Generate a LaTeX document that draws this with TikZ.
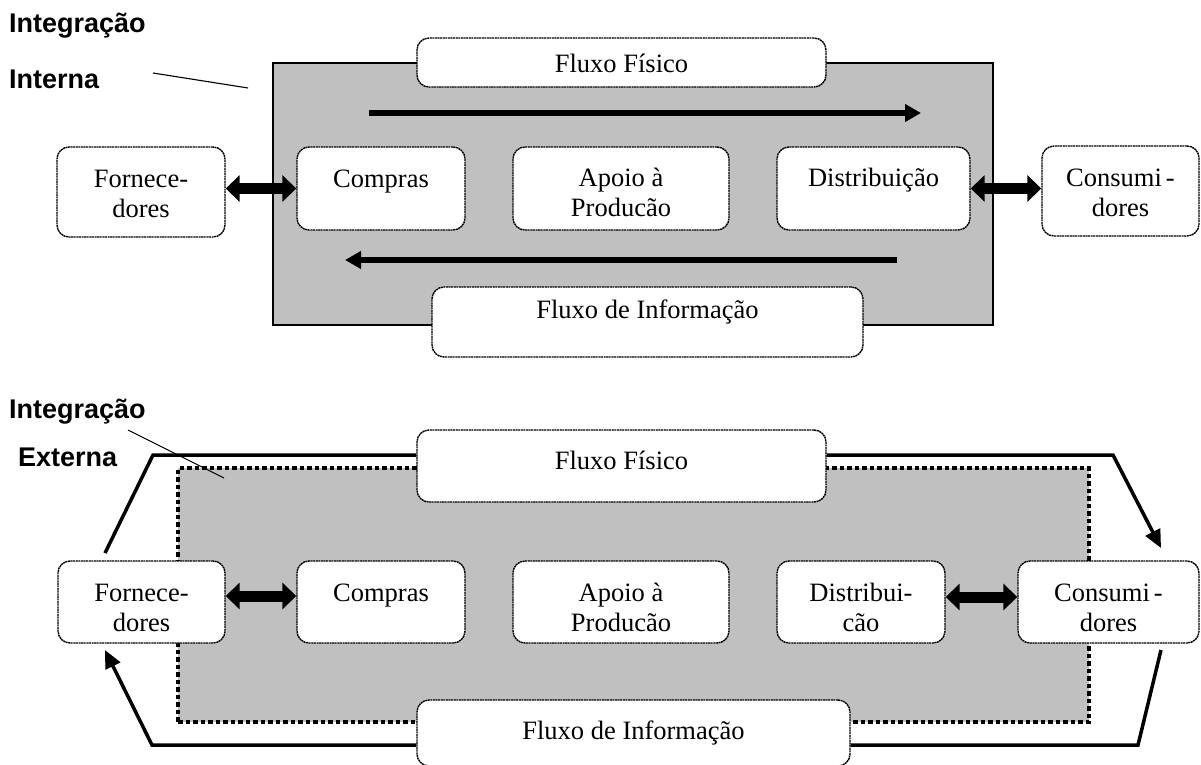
\documentclass[tikz,border=0pt]{standalone}
\usepackage{fontspec}
\setmainfont{Liberation Serif}
\newfontfamily\tagfont{Liberation Sans}
\usetikzlibrary{arrows.meta,calc}
\definecolor{panel}{HTML}{C0C0C0}
% two stacked lines; the baseline of the whole block is that of the first line
\newcommand{\twolines}[2]{\begin{tabular}[t]{@{}c@{}}#1\\#2\end{tabular}}

\begin{document}
\begin{tikzpicture}[x=1pt,y=-1pt,
  box/.style={draw=black, fill=white, rounded corners=12pt, line width=1.4pt,
              dash pattern=on 2pt off 0.6pt, inner sep=0pt},
  core/.style={draw=black, fill=panel, line width=1.5pt, inner sep=0pt},
  coredot/.style={draw=black, fill=panel, line width=3.5pt, dash pattern=on 4.5pt off 3pt, inner sep=0pt},
  txt/.style={inner sep=0pt, anchor=base, font=\fontsize{26.5}{30}\selectfont},
  tag/.style={inner sep=0pt, anchor=base west, font=\tagfont\bfseries\fontsize{27}{30}\selectfont},
  pointer/.style={line width=1.1pt},
  flowarrow/.style={line width=6pt, -{Triangle[length=16pt,width=17pt]}},
  dbl/.style={line width=11pt, {Triangle[length=14pt,width=26pt]}-{Triangle[length=14pt,width=26pt]}},
  loopline/.style={line width=3.5pt},
  looparrow/.style={line width=3.5pt, -{Triangle[length=18pt,width=16pt]}}
]
\useasboundingbox (0,0) rectangle (1201,765);

% ---------------- internal integration ----------------
\node[tag] (intA) at (9,33) {Integração};
\node[tag] (intB) at (9,89) {Interna};
\coordinate (pA0) at (153,73);
\coordinate (pA1) at (248,88);
\draw[pointer] (pA0) -- (pA1);

\node[core, minimum width=720pt, minimum height=262pt] (core1) at (633,194) {};

\node[box, minimum width=409pt, minimum height=49pt] (fis1) at (621.5,62.5) {};
\node[txt] (fis1t) at ($(fis1.north)+(0,35)$) {Fluxo Físico};

\coordinate (ra0) at (369,113);
\coordinate (ra1) at (921,113);
\draw[flowarrow] (ra0) -- (ra1);

\node[box, minimum width=168pt, minimum height=90pt] (forn1) at (141,192) {};
\node[box, minimum width=168pt, minimum height=83pt] (comp1) at (381,188.5) {};
\node[box, minimum width=216pt, minimum height=83pt] (apoio1) at (621,188.5) {};
\node[box, minimum width=193pt, minimum height=83pt] (dist1) at (873.5,188.5) {};
\node[box, minimum width=157pt, minimum height=90pt] (cons1) at (1120.5,191) {};

\node[txt] (forn1t) at ($(forn1.north)+(0,41)$) {\twolines{Fornece-}{dores}};
\node[txt] (comp1t) at ($(comp1.north)+(0,41)$) {Compras};
\node[txt] (apoio1t) at ($(apoio1.north)+(0,40)$) {\twolines{Apoio à}{Producão}};
\node[txt] (dist1t) at ($(dist1.north)+(0,40)$) {Distribuição};
\node[txt] (cons1t) at ($(cons1.north)+(0,41)$) {\twolines{Consumi\hspace{4pt}-}{dores}};

\draw[dbl] (forn1.east |- comp1.west) -- (comp1.west);
\draw[dbl] (dist1.east) -- (dist1.east -| cons1.west);

\coordinate (la0) at (897,260);
\coordinate (la1) at (345,260);
\draw[flowarrow] (la0) -- (la1);

\node[box, minimum width=431pt, minimum height=70pt] (info1) at (647.5,322) {};
\node[txt] (info1t) at ($(info1.north)+(0,32)$) {Fluxo de Informação};

% ---------------- external integration ----------------
\node[tag] (extA) at (9,418) {Integração};
\node[tag] (extB) at (18,466) {Externa};

\node[coredot, minimum width=911pt, minimum height=254pt] (core2) at (633.5,595) {};

\coordinate (pB0) at (128,430);
\coordinate (pB1) at (224,478);
\draw[pointer] (pB0) -- (pB1);

\node[box, minimum width=409pt, minimum height=72pt] (fis2) at (621.5,466) {};
\node[box, minimum width=433pt, minimum height=66pt] (info2) at (633.5,733) {};

% outer loop: goods towards the consumers, information back to the suppliers
\coordinate (ul0) at (105,553);
\coordinate (ul1) at (153,455);
\coordinate (ur1) at (1113,455);
\coordinate (ur2) at (1161,548);
\coordinate (lr0) at (1161,650);
\coordinate (lr1) at (1138,745);
\coordinate (ll1) at (152,745);
\coordinate (ll2) at (105,650);
\draw[loopline] (ul0) -- (ul1) -- (ul1 -| fis2.west);
\draw[looparrow] (ur1 -| fis2.east) -- (ur1) -- (ur2);
\draw[loopline] (lr0) -- (lr1) -- (lr1 -| info2.east);
\draw[looparrow] (ll1 -| info2.west) -- (ll1) -- (ll2);

\node[txt] (fis2t) at ($(fis2.north)+(0,40)$) {Fluxo Físico};
\node[txt] (info2t) at ($(info2.north)+(0,40)$) {Fluxo de Informação};

\node[box, minimum width=167pt, minimum height=82pt] (forn2) at (141.5,602) {};
\node[box, minimum width=168pt, minimum height=82pt] (comp2) at (381,602) {};
\node[box, minimum width=216pt, minimum height=82pt] (apoio2) at (621,602) {};
\node[box, minimum width=168pt, minimum height=82pt] (dist2) at (861,602) {};
\node[box, minimum width=181pt, minimum height=82pt] (cons2) at (1108.5,602) {};

\node[txt] (forn2t) at ($(forn2.north)+(0,41)$) {\twolines{Fornece-}{dores}};
\node[txt] (comp2t) at ($(comp2.north)+(0,41)$) {Compras};
\node[txt] (apoio2t) at ($(apoio2.north)+(0,41)$) {\twolines{Apoio à}{Producão}};
\node[txt] (dist2t) at ($(dist2.north)+(0,41)$) {\twolines{Distribui-}{cão}};
\node[txt] (cons2t) at ($(cons2.north)+(0,41)$) {\twolines{Consumi\hspace{4pt}-}{dores}};

\draw[dbl] ([yshift=6pt]forn2.east) -- ([yshift=6pt]comp2.west);
\draw[dbl] ([yshift=5pt]dist2.east) -- ([yshift=5pt]cons2.west);
\end{tikzpicture}
\end{document}
